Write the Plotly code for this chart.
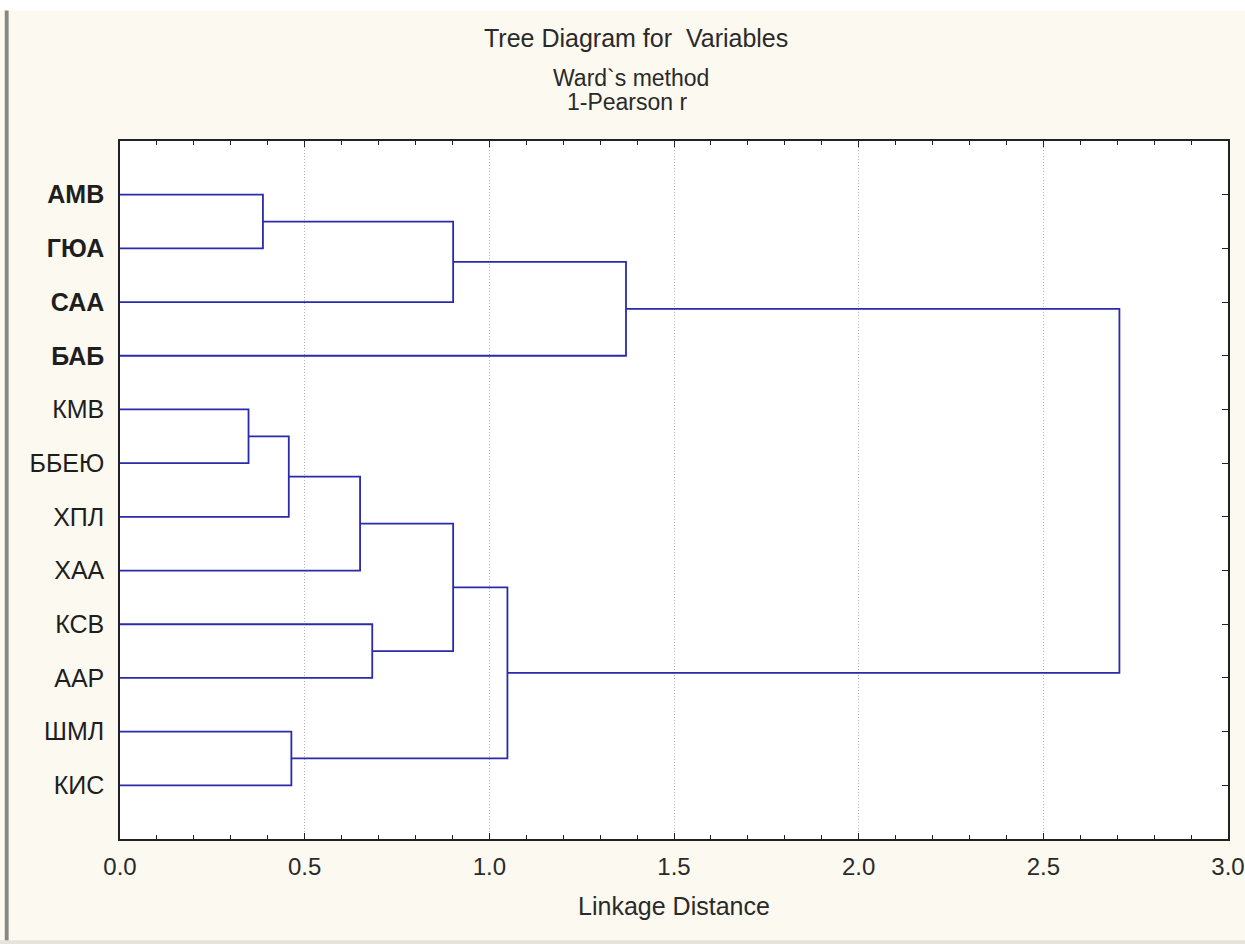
import plotly.graph_objects as go

# Variables (leaf order, top to bottom) and which of them are printed in bold
leaves = ["АМВ", "ГЮА", "САА", "БАБ", "КМВ", "ББЕЮ", "ХПЛ", "ХАА", "КСВ", "ААР", "ШМЛ", "КИС"]
bold_leaves = ["АМВ", "ГЮА", "САА", "БАБ"]

# Ward linkage: (left node, right node, linkage distance); node ids 0..11 are leaves,
# every merge creates a new node numbered from 12 upwards
merge_left = [4, 0, 12 + 0, 10, 12 + 2, 8, 12 + 1, 12 + 4, 12 + 7, 12 + 6, 12 + 9]
merge_right = [5, 1, 6, 11, 7, 9, 2, 12 + 5, 12 + 3, 3, 12 + 8]
merge_height = [0.348, 0.387, 0.457, 0.464, 0.650, 0.683, 0.902, 0.902, 1.049, 1.370, 2.706]

x_ticks = [0.0, 0.5, 1.0, 1.5, 2.0, 2.5, 3.0]

title_lines = ["Tree Diagram for  Variables", "Ward`s method", "1-Pearson r"]
x_title = "Linkage Distance"

# ---- build the dendrogram path -------------------------------------------
n = len(leaves)
node_pos = {i: i + 1 for i in range(n)}      # vertical position of each node
node_h = {i: 0.0 for i in range(n)}          # linkage distance of each node
xs, ys = [], []
for k, (a, b, h) in enumerate(zip(merge_left, merge_right, merge_height)):
    ya, yb = node_pos[a], node_pos[b]
    xs += [node_h[a], h, h, node_h[b], None]
    ys += [ya, ya, yb, yb, None]
    node_pos[n + k] = (ya + yb) / 2
    node_h[n + k] = h

line_color = "#2a2aaa"
ink = "#1e1e1e"
soft_ink = "#2a2a2a"
font_family = "Liberation Sans, Arial, sans-serif"

fig = go.Figure()
fig.add_trace(go.Scatter(
    x=xs, y=ys, mode="lines",
    line=dict(color=line_color, width=1.8),
    hoverinfo="skip", showlegend=False,
))
# invisible trace that anchors the secondary (top / right) tick axes
fig.add_trace(go.Scatter(x=[None], y=[None], xaxis="x2", yaxis="y2",
                         showlegend=False, hoverinfo="skip"))

tick_text = [f"<b>{v}</b>" if v in bold_leaves else v for v in leaves]

fig.update_layout(
    width=1245, height=944,
    margin=dict(l=120, r=17, t=141, b=105),
    paper_bgcolor="#fcf9f0",
    plot_bgcolor="#ffffff",
    font=dict(family=font_family, color=ink, size=25),
    xaxis=dict(
        range=[0, 3], tickvals=x_ticks, tickformat=".1f", automargin=False,
        ticks="inside", ticklen=6, tickcolor="#222", tickwidth=1,
        minor=dict(ticks="inside", dtick=0.1, ticklen=4, tickcolor="#222", showgrid=False),
        showgrid=True, gridcolor="#b4b4b4", griddash="1px,2px", gridwidth=1,
        zeroline=False, showline=True, linecolor="#222", linewidth=1.5, mirror=True,
        tickfont=dict(size=24, color=soft_ink), ticklabelstandoff=5,
        title=dict(text=x_title, font=dict(size=25, color=soft_ink), standoff=19),
    ),
    yaxis=dict(
        range=[13, 0], tickvals=list(range(1, n + 1)), ticktext=tick_text,
        ticks="", showgrid=False, zeroline=False, automargin=False,
        showline=True, linecolor="#222", linewidth=1.5, mirror=True,
        tickfont=dict(size=25, color=ink), ticklabelstandoff=9,
    ),
    xaxis2=dict(
        overlaying="x", side="top", anchor="y2", range=[0, 3], tickvals=x_ticks,
        ticks="inside", ticklen=6, tickcolor="#222", automargin=False,
        minor=dict(ticks="inside", dtick=0.1, ticklen=4, tickcolor="#222", showgrid=False),
        showticklabels=False, showgrid=False, zeroline=False,
    ),
    yaxis2=dict(
        overlaying="y", side="right", anchor="x2", range=[13, 0], automargin=False,
        tickvals=list(range(1, n + 1)), ticks="inside", ticklen=6, tickcolor="#222",
        showticklabels=False, showgrid=False, zeroline=False,
    ),
    showlegend=False,
)

# three-line heading above the plot area
heading_y = [1.147, 1.090, 1.056]
heading_x = [0.466, 0.461, 0.458]
heading_size = [25, 23, 23]
for text, hx, hy, hs in zip(title_lines, heading_x, heading_y, heading_size):
    fig.add_annotation(text=text, xref="paper", yref="paper", x=hx, y=hy,
                       xanchor="center", yanchor="middle", showarrow=False,
                       font=dict(size=hs, color=soft_ink))

# window chrome: white strip on top, grey frame bar on the left, grey strip at the bottom
fig.add_shape(type="rect", xref="paper", yref="paper", x0=-0.2, x1=1.1,
              y0=1.187, y1=1.25, fillcolor="#ffffff", line_width=0, layer="above")
fig.add_shape(type="rect", xref="paper", yref="paper", x0=-0.1040, x1=-0.1005,
              y0=-0.2, y1=1.187, fillcolor="#868682", line_width=0, layer="above")
fig.add_shape(type="rect", xref="paper", yref="paper", x0=-0.2, x1=1.1,
              y0=-0.155, y1=-0.145, fillcolor="#e6e3dc", line_width=0, layer="above")

fig.write_html("out.html")
